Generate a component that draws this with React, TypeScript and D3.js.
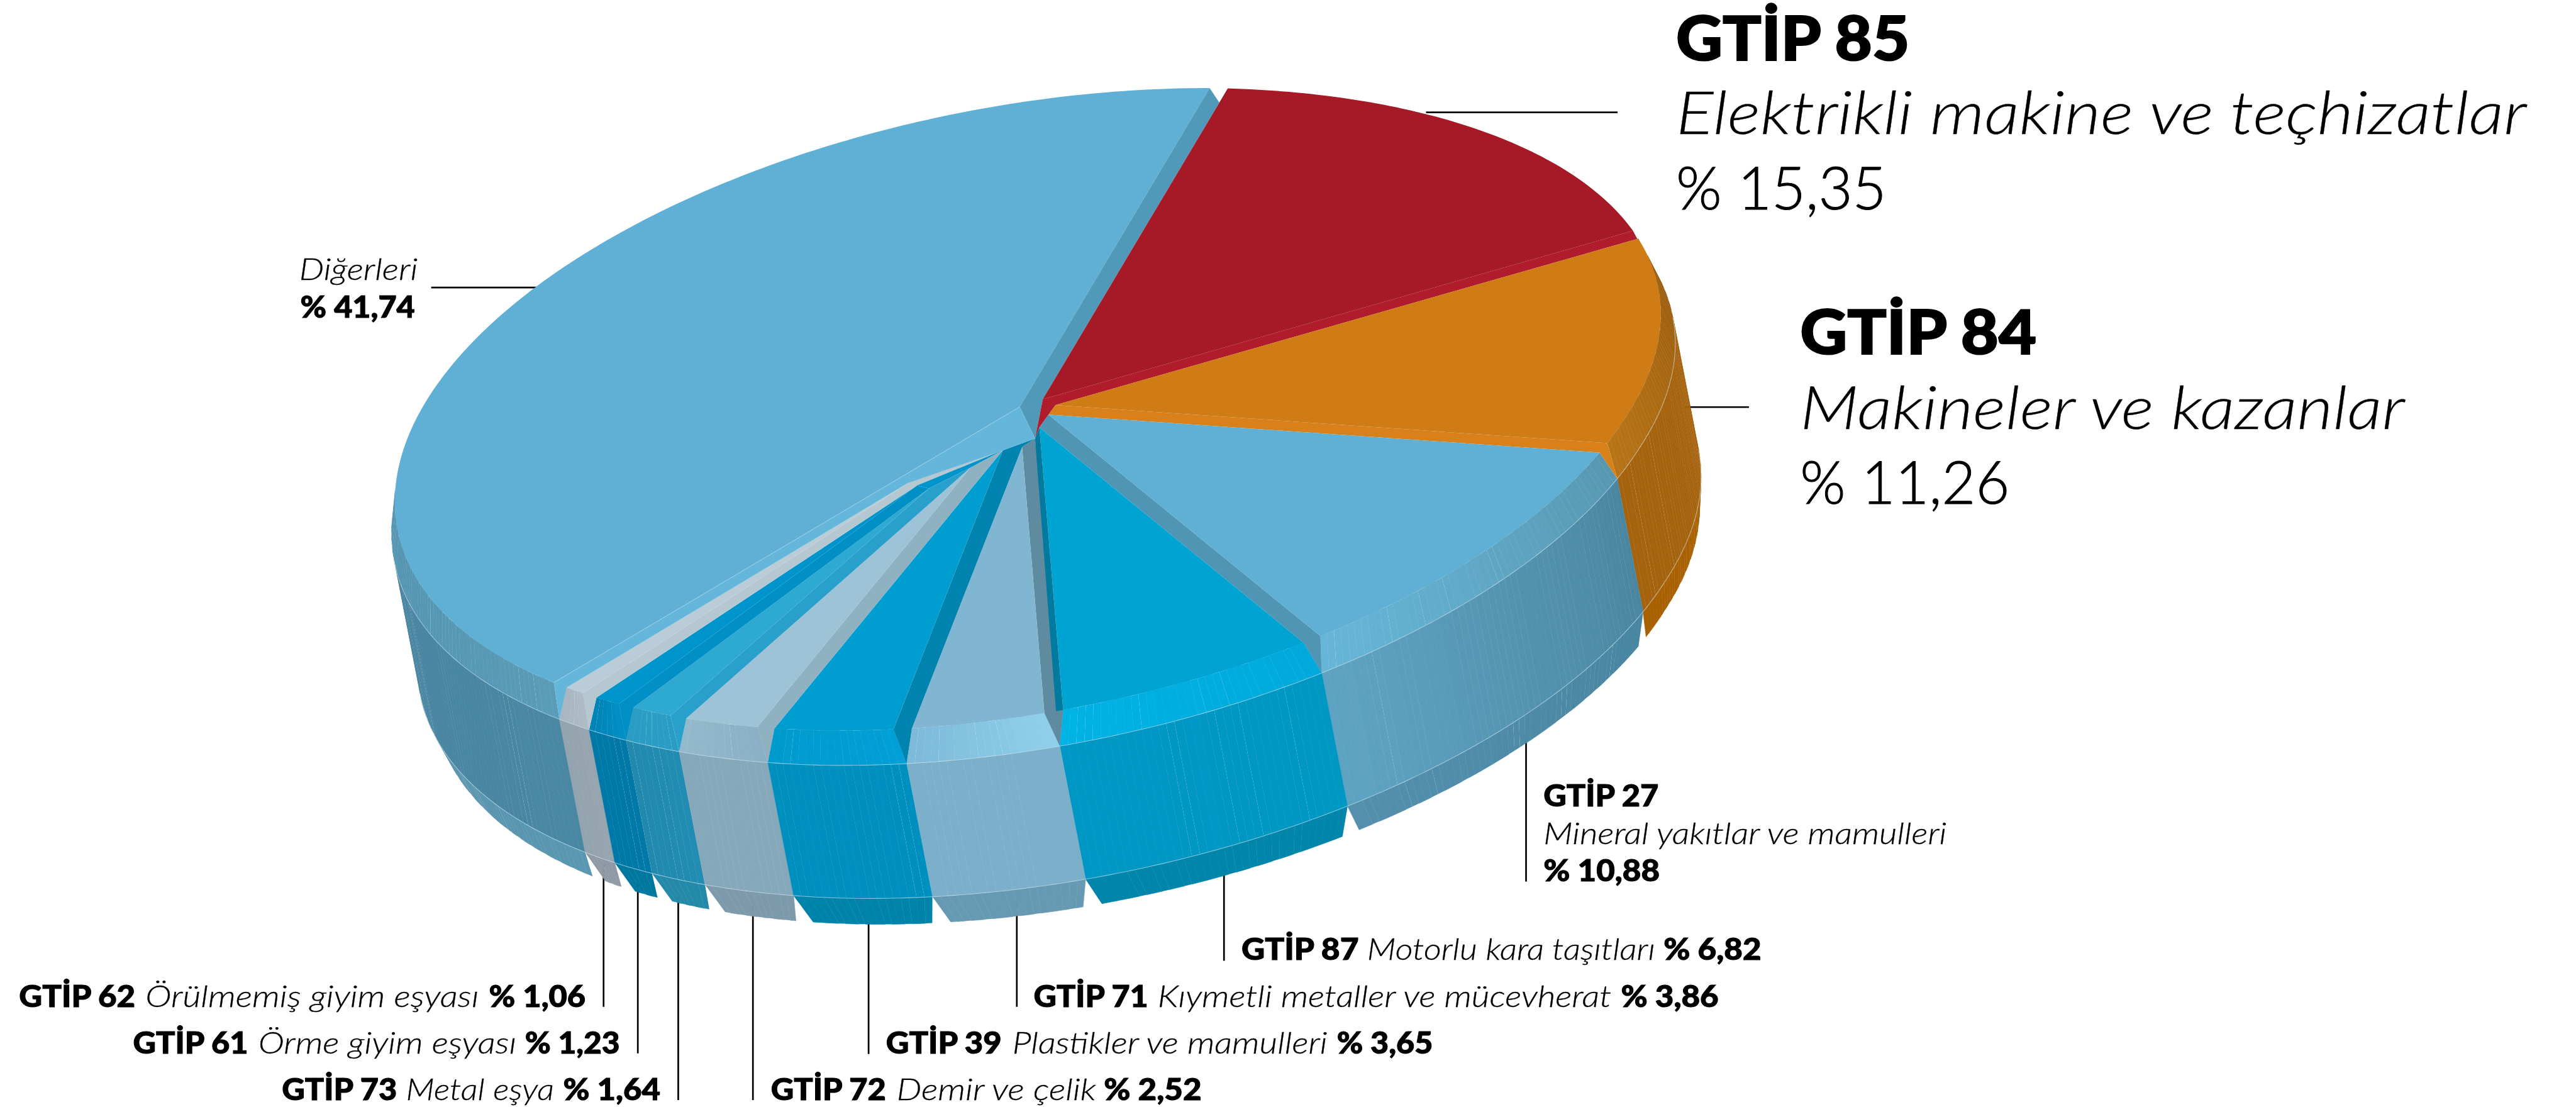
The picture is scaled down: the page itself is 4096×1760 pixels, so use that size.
import React from "react";
import * as d3 from "d3";

// ---------- data (clockwise from the top of the disc)
const codes = ["GTİP 85", "GTİP 84", "GTİP 27", "GTİP 87", "GTİP 71", "GTİP 39", "GTİP 72", "GTİP 73", "GTİP 61", "GTİP 62", ""];
const names = ["Elektrikli makine ve teçhizatlar", "Makineler ve kazanlar", "Mineral yakıtlar ve mamulleri", "Motorlu kara taşıtları", "Kıymetli metaller ve mücevherat", "Plastikler ve mamulleri", "Demir ve çelik", "Metal eşya", "Örme giyim eşyası", "Örülmemiş giyim eşyası", "Diğerleri"];
const values = [15.35, 11.26, 10.88, 6.82, 3.86, 3.65, 2.52, 1.64, 1.23, 1.06, 41.74];
const shares = ["% 15,35", "% 11,26", "% 10,88", "% 6,82", "% 3,86", "% 3,65", "% 2,52", "% 1,64", "% 1,23", "% 1,06", "% 41,74"];

const faceColors = ["#a61926", "#cf7b16", "#5fb0d4", "#00a4d3", "#80b6d2", "#009dd1", "#9ec3d6", "#2ea9d1", "#0094cc", "#b9ccd7", "#5fb0d4"];
const wallColors = ["#b01c2c", "#d8801a", "#5095b3", "#5f8ba1", "#0083ae", "#8fb1c1", "#28a0cb", "#0090c6", "#b5c8d2", "#64b6da", "#5199b8"];
const band1From = ["#8f1520", "#915509", "#5897b0", "#00a9dc", "#8fd0ec", "#009fd6", "#8bb0c6", "#2a9dc5", "#0090c5", "#aebbc5", "#5a9bb8"];
const band1To = ["#8f1520", "#b87416", "#66b6d9", "#00b3e5", "#7cb9d8", "#009bcd", "#94b9cc", "#2a9dc5", "#0082b5", "#a6b6c1", "#41809b"];
const band2From = ["#8f1520", "#a6630d", "#4b86a0", "#0098c3", "#7cafca", "#0090bf", "#86a8bb", "#218db2", "#0079a9", "#97a5b0", "#4a87a3"];
const band2To = ["#8f1520", "#a6630d", "#5fa3c3", "#0097c4", "#7cafca", "#0090bf", "#86a8bb", "#2189ad", "#0079a9", "#93a3af", "#3f7d98"];
const band3From = ["#8f1520", "#a86000", "#4885a0", "#0085ab", "#6699b2", "#0083ab", "#7c9aab", "#2389a9", "#00779f", "#8e99a3", "#5a97b0"];
const band3To = ["#8f1520", "#a86000", "#5490ae", "#0085ab", "#6699b2", "#0083ab", "#7c9aab", "#2389a9", "#00779f", "#8e99a3", "#457f98"];
const innerWallColor = "#007a9e";

// ---------- projection of the disc (reference pixels)
const W = 4588;
const C = [1827, 729];
const U = [343.5, -572];
const V = [1070, 11.4];
const PAD = 0.015;
const MAX_APEX = 0.265;
const APEX_SHIFT = [4, -2];
const WALL_FOOT = [1843.5, 781];
const STEP = (0.75 * Math.PI) / 180;

const disc = (phi: number, r = 1) => {
  const bump = phi < Math.PI / 2 ? Math.sin(2 * phi) : phi < Math.PI ? 0.4 * Math.sin(2 * phi) : 0;
  return [
    r * (U[0] * Math.cos(phi) + V[0] * Math.sin(phi) + 12 * bump),
    r * (U[1] * Math.cos(phi) + V[1] * Math.sin(phi) + 6 * bump),
  ];
};
const ring0 = (phi: number, r = 1) => { const d = disc(phi, r); return [C[0] + d[0], C[1] + d[1]]; };
const ring1 = (phi: number) => { const d = disc(phi, 1.014); return [C[0] + 10 + d[0], C[1] + 54 + d[1]]; };
const ring2 = (phi: number) => { const p = ring1(phi); return [p[0] + 46, p[1] + 237]; };
const ring3 = (phi: number) => { const d = disc(phi); return [C[0] + 69 + d[0], C[1] + 345 + d[1]]; };

const arcs = d3.pie<number>().sort(null).value((d) => d).startAngle(0).endAngle(2 * Math.PI)(values);
const slices = arcs.map((a, i) => {
  const alpha = a.endAngle - a.startAngle;
  const apexR = Math.min(PAD / Math.sin(alpha / 2), MAX_APEX);
  const mid = (a.startAngle + a.endAngle) / 2;
  const p = ring0(mid, apexR);
  return { i, start: a.startAngle, end: a.endAngle, s: a.startAngle + PAD, e: a.endAngle - PAD, apex: [p[0] + APEX_SHIFT[0], p[1] + APEX_SHIFT[1]] };
});

const line = d3.line<number[]>().x((d) => d[0]).y((d) => d[1]);
const poly = (pts: number[][]) => line(pts) + "Z";

const facePoints = (sl: typeof slices[number]) => {
  const n = Math.ceil((sl.e - sl.s) / STEP) + 1;
  const phi = d3.scaleLinear().domain([0, n]).range([sl.s, sl.e]);
  return [sl.apex, ...d3.range(n + 1).map((k) => ring0(phi(k)))];
};

type Facet = { d: string; fill: string; y: number; key: string };
const facets: Facet[] = [];
const seams: string[] = [];
slices.forEach((sl) => {
  const n = Math.max(2, Math.ceil((sl.end - sl.start) / STEP));
  const full = d3.scaleLinear().domain([0, n]).range([sl.start, sl.end]);
  const inset = d3.scaleLinear().domain([0, n]).range([sl.s, sl.e]);
  const bands = [
    { a: (k: number) => ring0(inset(k)), b: (k: number) => ring1(full(k)), from: band1From[sl.i], to: band1To[sl.i] },
    { a: (k: number) => ring1(full(k)), b: (k: number) => ring2(full(k)), from: band2From[sl.i], to: band2To[sl.i] },
    { a: (k: number) => ring2(full(k)), b: (k: number) => ring3(inset(k)), from: band3From[sl.i], to: band3To[sl.i] },
  ];
  bands.forEach((band, bi) => {
    const col = d3.interpolateRgb(band.from, band.to);
    d3.range(n).forEach((k) => {
      const q = [band.a(k), band.a(k + 1), band.b(k + 1), band.b(k)];
      if (d3.polygonArea(q) <= 0) return;
      facets.push({ d: poly(q), fill: col((k + 0.5) / n), y: d3.mean(q, (p) => p[1]) as number, key: `${sl.i}-${bi}-${k}` });
      if (bi === 1) {
        seams.push(line([q[0], q[1]]) as string);
        seams.push(line([q[3], q[2]]) as string);
      }
    });
  });
});
facets.sort((a, b) => a.y - b.y);

const gapRim = (i: number) => ring1(slices[i].end);
const rimOf = (i: number, side: "s" | "e") => ring0(slices[i][side]);
const [DIG, RED, ORANGE, T27, M87, K71, P39] = [10, 0, 1, 2, 3, 4, 5];

const backWalls = [
  { fill: wallColors[10], pts: [slices[DIG].apex, rimOf(DIG, "e"), gapRim(DIG), rimOf(RED, "s"), slices[RED].apex, WALL_FOOT] },
  { fill: wallColors[0], pts: [slices[RED].apex, rimOf(RED, "e"), gapRim(RED), rimOf(ORANGE, "s"), slices[ORANGE].apex, slices[T27].apex, slices[M87].apex, WALL_FOOT] },
  { fill: wallColors[1], pts: [slices[ORANGE].apex, rimOf(ORANGE, "e"), gapRim(ORANGE), rimOf(T27, "s"), slices[T27].apex] },
  { fill: wallColors[2], pts: [slices[T27].apex, rimOf(T27, "e"), gapRim(T27), rimOf(M87, "s"), slices[M87].apex] },
];

const rim71 = rimOf(K71, "s");
const rim87 = rimOf(M87, "e");
const splitRim = [rim71[0] + 0.62 * (rim87[0] - rim71[0]), rim71[1] + 0.62 * (rim87[1] - rim71[1])];

const frontPaint = [M87, K71, P39, 6, 7, 8, 9].flatMap((i) => {
  const sl = slices[i];
  const out: { d: string; fill: string }[] = [];
  if (i === K71) {
    out.push({ d: poly([sl.apex, rim71, gapRim(M87), rim87, WALL_FOOT]), fill: wallColors[3] });
    out.push({ d: poly([WALL_FOOT, splitRim, rim87, slices[M87].apex]), fill: innerWallColor });
  } else if (i > K71) {
    const pts = [sl.apex, rimOf(i, "s"), gapRim(i - 1), rimOf(i - 1, "e"), slices[i - 1].apex];
    if (i === P39) pts.push(WALL_FOOT);
    if (i === 9) pts.push(slices[P39].apex);
    out.push({ d: poly(pts), fill: wallColors[i - 1] });
  }
  out.push({ d: poly(facePoints(sl)), fill: faceColors[i] });
  return out;
});

const digWall = poly([slices[DIG].apex, rimOf(DIG, "s"), gapRim(9), rimOf(9, "e"), slices[9].apex, slices[P39].apex, WALL_FOOT]);
const underlay = poly([slices[9].apex, slices[P39].apex, slices[6].apex, slices[7].apex, slices[8].apex]);

const B = "bold", L = "light", I = "italic";
const labelRuns: [string, number, number, number, number, string][] = [
  [codes[0], 2985, 3401, 107, 108, B], [names[0], 2985, 4500, 239, 106, I], [shares[0], 2985, 3360, 373, 106, L],
  [codes[1], 3206, 3627, 631, 108, B], [names[1], 3206, 4283, 764, 106, I], [shares[1], 3206, 3579, 897, 106, L],
  [codes[2], 2749, 2954, 1436, 54, B], [names[2], 2749, 3467, 1503, 54, I], [shares[2], 2749, 2956, 1569, 54, B],
  [names[10], 533, 744, 499, 54, I], [shares[10], 535, 739, 566, 54, B],
  [codes[3], 2211, 2420, 1709, 54, B], [names[3], 2435, 2948, 1709, 54, I], [shares[3], 2963, 3137, 1709, 54, B],
  [codes[4], 1841, 2045, 1793, 54, B], [names[4], 2062, 2870, 1793, 54, I], [shares[4], 2887, 3061, 1793, 54, B],
  [codes[5], 1578, 1784, 1876, 54, B], [names[5], 1803, 2364, 1876, 54, I], [shares[5], 2381, 2552, 1876, 54, B],
  [codes[6], 1373, 1578, 1959, 54, B], [names[6], 1597, 1952, 1959, 54, I], [shares[6], 1966, 2140, 1959, 54, B],
  [codes[7], 502, 707, 1959, 54, B], [names[7], 723, 987, 1959, 54, I], [shares[7], 1003, 1176, 1959, 54, B],
  [codes[8], 237, 442, 1876, 54, B], [names[8], 460, 920, 1876, 54, I], [shares[8], 935, 1104, 1876, 54, B],
  [codes[9], 34, 241, 1793, 54, B], [names[9], 259, 853, 1793, 54, I], [shares[9], 871, 1043, 1793, 54, B],
];
const leaders = [
  "M2540 200H2881", "M3000 725H3115", "M768 512H980", "M2718 1300V1570", "M2180 1540V1711", "M1811 1600V1793",
  "M1547 1620V1877", "M1341 1610V1959", "M1208 1590V1959", "M1136 1570V1876", "M1075 1540V1793",
];

const App = () => {
  const s = 4096 / W;
  return (
    <svg width={4096} height={1760} viewBox="0 0 4096 1760" style={{ position: "absolute", left: 0, top: 0, fontFamily: "Lato, sans-serif" }}>
      <rect width={4096} height={1760} fill="#fff" />
      <g transform={`scale(${s})`}>
        <g stroke="#000" strokeWidth={3} fill="none">
          {leaders.map((d) => <path key={d} d={d} />)}
        </g>
        <g>{facets.map((f, k) => <path key={f.key} d={f.d} fill={f.fill} stroke={f.fill} strokeWidth={k % 3 === 0 ? 0 : 0.7} />)}</g>
        <g fill="none" stroke="#d7ebf3" strokeOpacity={0.6} strokeWidth={1.2}>
          {seams.map((d, k) => <path key={k} d={d} />)}
        </g>
        <path d={poly(facePoints(slices[DIG]))} fill={faceColors[DIG]} />
        {backWalls.map((w, k) => <path key={k} d={poly(w.pts)} fill={w.fill} />)}
        <path d={poly(facePoints(slices[RED]))} fill={faceColors[RED]} />
        <path d={poly(facePoints(slices[ORANGE]))} fill={faceColors[ORANGE]} />
        <path d={poly(facePoints(slices[T27]))} fill={faceColors[T27]} />
        <path d={underlay} fill="#0094cc" />
        {frontPaint.map((p, k) => <path key={k} d={p.d} fill={p.fill} />)}
        <path d={digWall} fill={wallColors[9]} />
        <path d={line([slices[DIG].apex, rimOf(DIG, "s")]) as string} stroke="#a5d3e6" strokeWidth={1} fill="none" />
        <g fill="#000" stroke="#000">
          {labelRuns.map(([t, x0, x1, y, size, style]) => (
            <text key={t + x0} x={x0} y={y} fontSize={size} textLength={x1 - x0} lengthAdjust="spacingAndGlyphs"
              strokeWidth={style === B ? size * 0.022 : style === L ? 1.2 : 0.4}
              fontWeight={style === B ? 900 : 300} fontStyle={style === I ? "italic" : "normal"}>{t}</text>
          ))}
        </g>
      </g>
    </svg>
  );
};

export default App;
